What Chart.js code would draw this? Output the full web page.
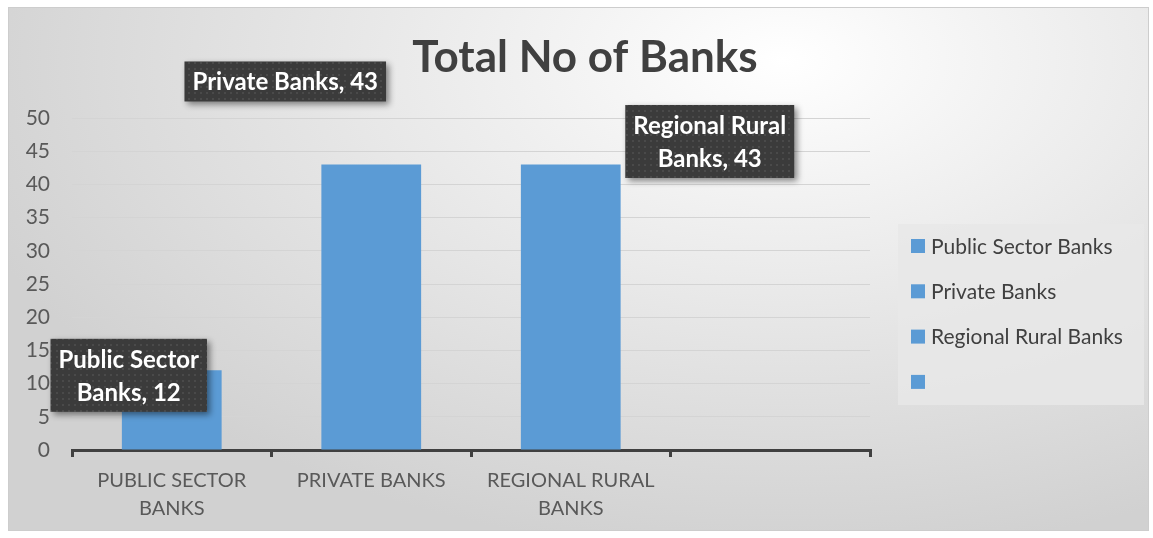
<!DOCTYPE html>
<html>
<head>
<meta charset="utf-8">
<script src="https://cdn.jsdelivr.net/npm/chart.js@4"></script>
<style>
  html, body { margin: 0; padding: 0; background: #fff; }
  #frame {
    position: absolute; left: 8px; top: 7px; width: 1139px; height: 522px;
    border: 1px solid #cdcdcd;
    background: radial-gradient(ellipse 75% 95% at 68% 10%, #ffffff 0%, #f3f3f3 25%, #e3e3e3 60%, #d1d1d1 100%);
  }
  #wrap { position: absolute; left: 0; top: 0; width: 1153px; height: 538px; }
</style>
</head>
<body>
<div id="frame"></div>
<div id="wrap"><canvas id="myChart" width="1153" height="538"></canvas></div>
<script>
// data
const categories = [["PUBLIC SECTOR", "BANKS"], "PRIVATE BANKS", ["REGIONAL RURAL", "BANKS"], ""];
const seriesNames = ["Public Sector Banks", "Private Banks", "Regional Rural Banks", ""];
const bankCounts = [12, 43, 43, null];
const yTicks = [0, 5, 10, 15, 20, 25, 30, 35, 40, 45, 50];
const chartTitle = "Total No of Banks";

const barColor = "#5b9bd5";
const fontName = "Lato, 'Open Sans', sans-serif";

// dotted dark texture for the data label boxes
function makePattern(ctx) {
  const p = document.createElement("canvas");
  p.width = 6; p.height = 6;
  const c = p.getContext("2d");
  c.fillStyle = "#3b3b3b";
  c.fillRect(0, 0, 6, 6);
  c.fillStyle = "#4a4a4a";
  c.fillRect(2, 2, 2, 2);
  return ctx.createPattern(p, "repeat");
}

const extras = {
  id: "extras",
  afterDatasetsDraw(chart, args, opts) {
    const ctx = chart.ctx;
    const meta = chart.getDatasetMeta(0);

    // title
    ctx.save();
    ctx.font = "bold 44px " + fontName;
    ctx.fillStyle = "#404040";
    ctx.textAlign = "center";
    ctx.textBaseline = "middle";
    ctx.fillText(chartTitle, 585, 58);
    ctx.restore();

    // data labels
    const pat = makePattern(ctx);
    meta.data.forEach((bar, i) => {
      if (bankCounts[i] == null) return;
      const name = seriesNames[i];
      let lines;
      if (opts.wrap[i]) {
        const words = name.split(" ");
        const last = words.pop();
        lines = [words.join(" "), last + ", " + bankCounts[i]];
      } else {
        lines = [name + ", " + bankCounts[i]];
      }
      ctx.save();
      ctx.font = "bold 24px " + fontName;
      const w = Math.max(...lines.map(l => ctx.measureText(l).width)) + 16;
      const h = lines.length * 33 + 7;
      const cx = bar.x + opts.offsets[i][0];
      const cy = bar.y + opts.offsets[i][1];
      ctx.shadowColor = "rgba(0,0,0,0.45)";
      ctx.shadowBlur = 6;
      ctx.shadowOffsetX = 3;
      ctx.shadowOffsetY = 3;
      ctx.fillStyle = pat;
      ctx.fillRect(cx - w / 2, cy - h / 2, w, h);
      ctx.shadowColor = "transparent";
      ctx.fillStyle = "#ffffff";
      ctx.textAlign = "center";
      ctx.textBaseline = "middle";
      lines.forEach((l, k) => {
        ctx.fillText(l, cx, cy - (lines.length - 1) * 16.5 + k * 33 + 1);
      });
      ctx.restore();
    });

    // legend
    ctx.save();
    ctx.fillStyle = "rgba(232,232,232,0.85)";
    ctx.fillRect(898, 224, 246, 181);
    ctx.font = "21px " + fontName;
    ctx.textBaseline = "middle";
    seriesNames.forEach((n, i) => {
      const y = 246 + i * 45.3;
      ctx.fillStyle = barColor;
      ctx.fillRect(911, y - 7, 14, 14);
      ctx.fillStyle = "#404040";
      ctx.fillText(n, 931, y + 1);
    });
    ctx.restore();
  }
};

new Chart(document.getElementById("myChart"), {
  type: "bar",
  data: {
    labels: categories,
    datasets: [{
      label: "Total No of Banks",
      data: bankCounts,
      backgroundColor: barColor,
      categoryPercentage: 1,
      barPercentage: 0.5
    }]
  },
  plugins: [extras],
  options: {
    responsive: false,
    animation: false,
    layout: { padding: { top: 118, right: 283, left: 0, bottom: 0 } },
    plugins: {
      legend: { display: false },
      title: { display: false },
      tooltip: { enabled: false },
      extras: {
        wrap: [true, false, true],
        offsets: [[-43, 5], [-86, -83], [139, -23]]
      }
    },
    scales: {
      x: {
        afterFit(scale) { scale.height = 88; },
        grid: { drawOnChartArea: false, drawTicks: true, tickLength: 7, color: "#404040", lineWidth: 3 },
        border: { display: true, color: "#404040", width: 3 },
        ticks: { color: "#595959", font: { family: fontName, size: 20, lineHeight: 1.4 }, padding: 10, maxRotation: 0, autoSkip: false }
      },
      y: {
        min: 0,
        max: 50,
        afterFit(scale) { scale.width = 72; },
        afterBuildTicks(scale) { scale.ticks = yTicks.map(v => ({ value: v })); },
        grid: { color: "#d4d4d4", lineWidth: 1, drawTicks: false },
        border: { display: false },
        ticks: { color: "#595959", font: { family: fontName, size: 21 }, padding: 22 }
      }
    }
  }
});
</script>
</body>
</html>
